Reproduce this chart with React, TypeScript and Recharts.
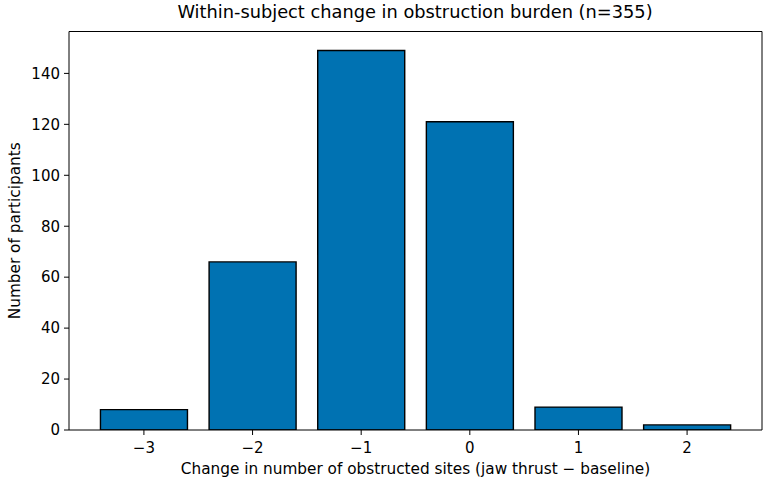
import React from "react";
import { BarChart, Bar, XAxis, YAxis, Label } from "recharts";

const categories = ["−3", "−2", "−1", "0", "1", "2"];
const counts = [8, 66, 149, 121, 9, 2];
const yTicks = [0, 20, 40, 60, 80, 100, 120, 140];

const data = categories.map((c, i) => ({ cat: c, n: counts[i] }));

const font = "DejaVu Sans, sans-serif";

export default function App() {
  return (
    <div style={{ position: "absolute", left: 0, top: 0, width: 769, height: 484, background: "#fff", fontFamily: font }}>
      <div style={{ position: "absolute", top: 0, left: 68, width: 694, textAlign: "center", fontSize: 17.8, lineHeight: "24px", color: "#000", whiteSpace: "nowrap" }}>
        Within-subject change in obstruction burden (n=355)
      </div>
      <BarChart
        width={769}
        height={484}
        data={data}
        margin={{ top: 30.5, right: 6, bottom: 24, left: 0 }}
        barCategoryGap="10%"
      >
        <XAxis
          dataKey="cat"
          padding={{ left: 20.6, right: 20.6 }}
          tickLine={{ stroke: "#000" }}
          axisLine={{ stroke: "#000" }}
          tick={{ fill: "#000", fontSize: 15, fontFamily: font }}
          tickSize={5}
          tickMargin={7}
          height={30}
          interval={0}
        >
          <Label value="Change in number of obstructed sites (jaw thrust − baseline)" position="bottom" offset={3} style={{ fill: "#000", fontSize: 15.3, fontFamily: font }} />
        </XAxis>
        <XAxis xAxisId="top" orientation="top" type="number" domain={[0, 1]} height={1} tick={false} tickLine={false} axisLine={{ stroke: "#000" }} />
        <YAxis
          domain={[0, 156.45]}
          ticks={yTicks}
          width={69}
          tickLine={{ stroke: "#000" }}
          axisLine={{ stroke: "#000" }}
          tick={{ fill: "#000", fontSize: 15, fontFamily: font }}
          tickSize={5}
          tickMargin={4}
          allowDataOverflow
        >
          <Label value="Number of participants" angle={-90} position="insideLeft" offset={15} style={{ fill: "#000", fontSize: 15.3, fontFamily: font, textAnchor: "middle" }} />
        </YAxis>
        <YAxis yAxisId="right" orientation="right" type="number" domain={[0, 1]} width={1} tick={false} tickLine={false} axisLine={{ stroke: "#000" }} />
        <Bar dataKey="n" fill="#0072B2" stroke="#000" strokeWidth={1.4} isAnimationActive={false} />
      </BarChart>
    </div>
  );
}
